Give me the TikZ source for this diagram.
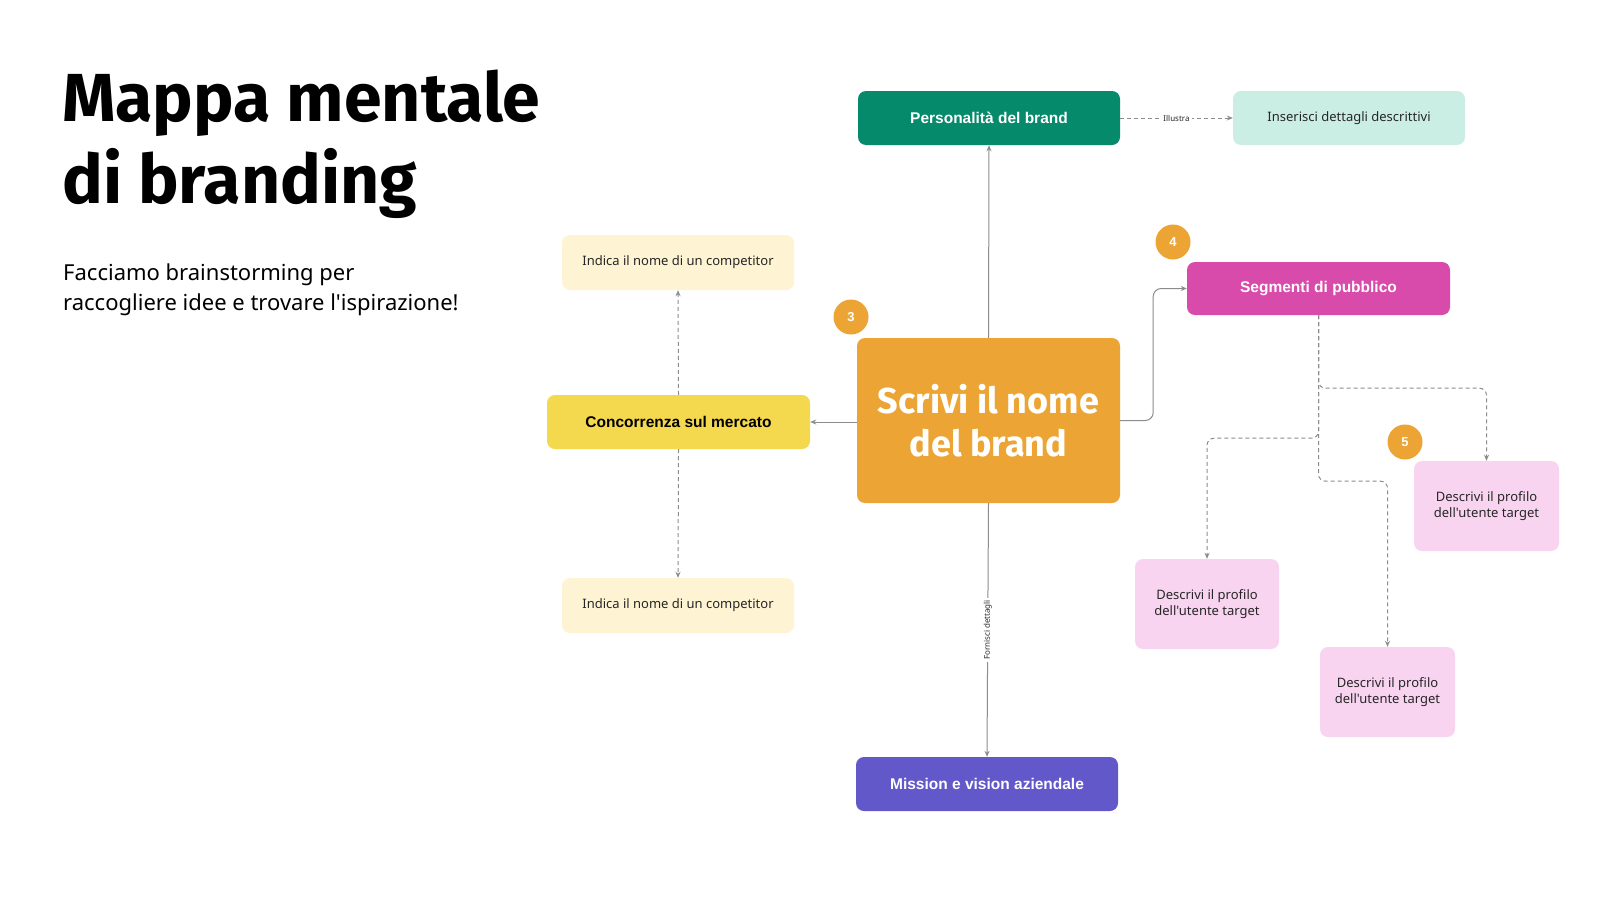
\documentclass[tikz,border=0pt]{standalone}
\usepackage{fontspec}
\setmainfont{Noto Sans}
\newfontfamily\bodyfont{Noto Sans}
\newfontfamily\boldfont{Liberation Sans}
\newfontfamily\headfont{Fira Sans}
\usetikzlibrary{arrows.meta,calc}
\definecolor{cgreen}{HTML}{058B6B}
\definecolor{cmint}{HTML}{CBEEE4}
\definecolor{ccream}{HTML}{FEF3D2}
\definecolor{cyellow}{HTML}{F4D84E}
\definecolor{corange}{HTML}{ECA535}
\definecolor{cmagenta}{HTML}{D84BAB}
\definecolor{cpurple}{HTML}{6358CA}
\definecolor{cpink}{HTML}{F9D4F1}
\definecolor{cline}{HTML}{8C8C8C}
\tikzset{
  box/.style={rounded corners=8pt, inner sep=0pt, align=center, draw=none},
  headbox/.style={box, text=white, font=\boldfont\bfseries\fontsize{15.5}{18}\selectfont},
  leafbox/.style={box, text=black!85, font=\bodyfont\fontsize{13}{16}\selectfont},
  badge/.style={circle, fill=corange, minimum size=35pt, inner sep=0pt, text=white, font=\boldfont\bfseries\fontsize{13}{14}\selectfont},
  conn/.style={draw=cline, line width=1pt, -{Stealth[length=6pt,width=5pt]}},
  dconn/.style={conn, dash pattern=on 4pt off 3pt},
  lbl/.style={fill=white, inner sep=2pt, text=black!85, font=\bodyfont\fontsize{8}{9}\selectfont},
}
\begin{document}
\begin{tikzpicture}[x=1pt,y=-1pt]
\useasboundingbox[fill=white] (0,0) rectangle (1600,900);
% title
\node[anchor=base west, inner sep=0pt, font=\headfont\bfseries\fontsize{68}{80}\selectfont] (t1) at (62,121) {Mappa mentale};
\node[anchor=base west, inner sep=0pt, font=\headfont\bfseries\fontsize{68}{80}\selectfont] (t2) at (62,203) {di branding};
\node[anchor=base west, inner sep=0pt, font=\bodyfont\fontsize{22}{30}\selectfont] (s1) at (63,280) {Facciamo brainstorming per};
\node[anchor=base west, inner sep=0pt, font=\bodyfont\fontsize{22}{30}\selectfont] (s2) at (63,310) {raccogliere idee e trovare l'ispirazione!};
% boxes
\node[headbox, fill=cgreen, minimum width=262pt, minimum height=54pt] (pers) at (989,118) {Personalità del brand};
\node[leafbox, fill=cmint, minimum width=232pt, minimum height=54pt] (ins) at (1349,118) {Inserisci dettagli descrittivi};
\node[leafbox, fill=ccream, minimum width=232pt, minimum height=55pt] (ind1) at (678,262.5) {Indica il nome di un competitor};
\node[headbox, fill=cyellow, text=black, minimum width=263pt, minimum height=54pt] (conc) at (678.5,422) {Concorrenza sul mercato};
\node[leafbox, fill=ccream, minimum width=232pt, minimum height=55pt] (ind2) at (678,605.5) {Indica il nome di un competitor};
\node[box, fill=corange, text=white, minimum width=263pt, minimum height=165pt, font=\headfont\bfseries\fontsize{36}{43}\selectfont] (ctr) at (988.5,420.5) {Scrivi il nome\\del brand};
\node[headbox, fill=cmagenta, minimum width=263pt, minimum height=53pt] (seg) at (1318.5,288.5) {Segmenti di pubblico};
\node[headbox, fill=cpurple, minimum width=262pt, minimum height=54pt] (mis) at (987,784) {Mission e vision aziendale};
\node[leafbox, fill=cpink, minimum width=144pt, minimum height=90pt] (pa) at (1207,604) {Descrivi il profilo\\dell'utente target};
\node[leafbox, fill=cpink, minimum width=135pt, minimum height=90pt] (pb) at (1387.5,692) {Descrivi il profilo\\dell'utente target};
\node[leafbox, fill=cpink, minimum width=145pt, minimum height=90pt] (pc) at (1486.5,506) {Descrivi il profilo\\dell'utente target};
% badges
\node[badge] (b3) at (851,317) {3};
\node[badge] (b4) at (1173,242) {4};
\node[badge] (b5) at (1405,442) {5};
% connectors
\draw[conn] (ctr.north) -- (pers.south);
\draw[dconn] (pers.east) -- node[lbl] {Illustra} (ins.west);
\draw[conn] (ctr.west |- conc.east) -- (conc.east);
\draw[dconn] (conc.north) -- (ind1.south);
\draw[dconn] (conc.south) -- (ind2.north);
\draw[conn] (ctr.south) -- node[lbl, rotate=90] {Fornisci dettagli} (mis.north);
\draw[conn, rounded corners=8pt] (ctr.east) -- ++(33,0) |- (seg.west);
\draw[dconn, rounded corners=7pt] (seg.south) -- ++(0,73) -| (pc.north);
\draw[dconn, rounded corners=7pt] (seg.south) -- ++(0,123) -| (pa.north);
\draw[dconn, rounded corners=7pt] (seg.south) -- ++(0,166) -| (pb.north);
\end{tikzpicture}
\end{document}
